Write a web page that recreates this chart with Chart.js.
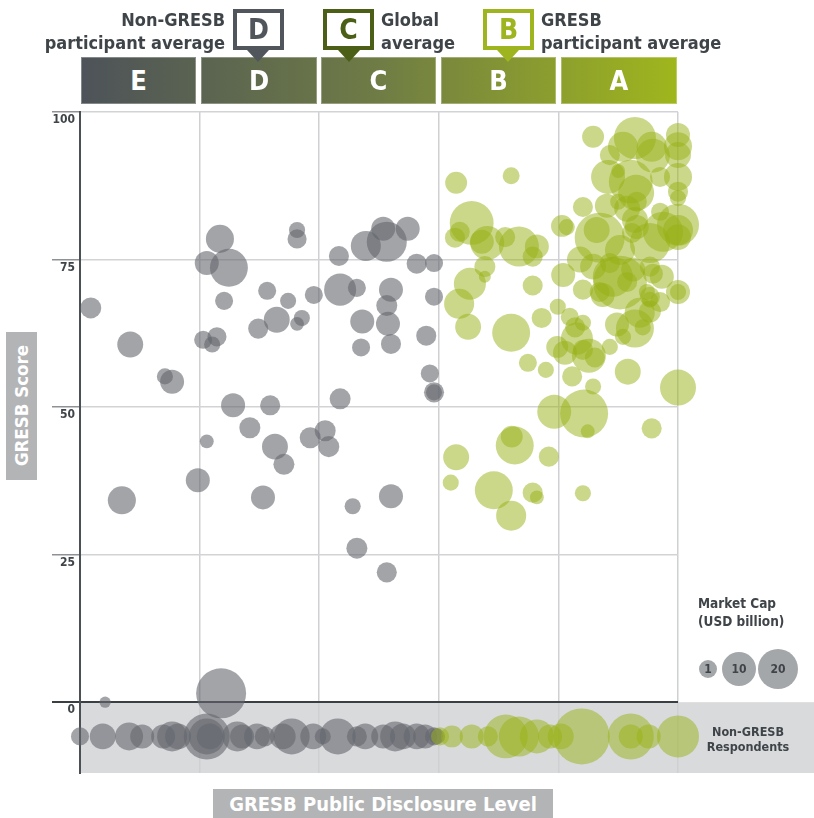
<!DOCTYPE html>
<html>
<head>
<meta charset="utf-8">
<script src="https://cdn.jsdelivr.net/npm/chart.js@4.4.1/dist/chart.umd.min.js"></script>
<style>
  html, body { margin: 0; padding: 0; background: #fff; }
  #wrap {
    position: relative; width: 814px; height: 818px; overflow: hidden;
    font-family: "DejaVu Sans Condensed", "DejaVu Sans", sans-serif;
    font-stretch: condensed; font-weight: bold; color: #3f4449;
  }
  #chart { position: absolute; left: 0; top: 0; }
  .abs { position: absolute; pointer-events: none; }
  .seg {
    position: absolute; top: 57px; height: 47px; color: #fff; font-size: 27px;
    line-height: 47px; text-align: center;
    background: linear-gradient(to right, #4d5359, #6f7c45 50%, #a0b61d);
    background-size: 596px 47px;
    box-shadow: inset 0 0 0 1px rgba(255,255,255,0.3);
  }
  .callout {
    position: absolute; top: 9px; width: 51px; height: 41px; box-sizing: border-box;
    border: 4px solid; background: #fff; font-size: 28px; line-height: 33px; text-align: center;
  }
  .tip {
    position: absolute; top: 50px; width: 0; height: 0;
    border-left: 11px solid transparent; border-right: 11px solid transparent; border-top: 12px solid;
  }
  .head { position: absolute; font-size: 18px; line-height: 22px; white-space: nowrap; }
  .bubble { position: absolute; border-radius: 50%; background: #a4a7aa; font-size: 12px; text-align: center; }
</style>
</head>
<body>
<div id="wrap">
  <canvas id="chart" width="814" height="818"></canvas>

  <div class="seg" style="left:81px;width:115px;background-position:0 0;">E</div>
  <div class="seg" style="left:201px;width:116px;background-position:-120px 0;">D</div>
  <div class="seg" style="left:321px;width:115px;background-position:-240px 0;">C</div>
  <div class="seg" style="left:441px;width:115px;background-position:-360px 0;">B</div>
  <div class="seg" style="left:561px;width:116px;background-position:-480px 0;">A</div>

  <div class="head" style="right:589px;top:9px;text-align:right;">Non-GRESB</div>
  <div class="head" style="right:589px;top:32px;text-align:right;">participant average</div>
  <div class="callout" style="left:233px;border-color:#50565c;color:#50565c;">D</div>
  <div class="tip" style="left:247px;color:#50565c;"></div>

  <div class="callout" style="left:323px;border-color:#4b5f16;color:#4b5f16;">C</div>
  <div class="tip" style="left:338px;color:#4b5f16;"></div>
  <div class="head" style="left:381px;top:9px;">Global</div>
  <div class="head" style="left:381px;top:32px;">average</div>

  <div class="callout" style="left:483px;border-color:#9fb520;color:#9fb520;">B</div>
  <div class="tip" style="left:497px;color:#9fb520;"></div>
  <div class="head" style="left:541px;top:9px;">GRESB</div>
  <div class="head" style="left:541px;top:32px;">participant average</div>

  <div class="abs" style="left:6px;top:332px;width:31px;height:148px;background:#b3b4b5;color:#fff;font-size:18.5px;display:flex;align-items:center;justify-content:center;">
    <span style="writing-mode:vertical-rl;transform:rotate(180deg);">GRESB Score</span>
  </div>
  <div class="abs" style="left:213px;top:789px;width:340px;height:29px;background:#b3b4b5;color:#fff;font-size:20px;line-height:30px;text-align:center;">GRESB Public Disclosure Level</div>

  <div class="abs" style="left:698px;top:594px;font-size:13.5px;line-height:18px;">Market Cap<br>(USD billion)</div>
  <div class="bubble" style="left:699px;top:660px;width:18px;height:18px;line-height:18px;">1</div>
  <div class="bubble" style="left:722px;top:652px;width:34px;height:34px;line-height:34px;">10</div>
  <div class="bubble" style="left:758px;top:649px;width:40px;height:40px;line-height:40px;">20</div>

  <div class="abs" style="left:698px;top:724px;width:100px;font-size:12.5px;line-height:15px;text-align:center;">Non-GRESB<br>Respondents</div>
</div>

<script>
// y = GRESB score, x = public disclosure score, cap = market cap (USD billion)
const yTicks = [0, 25, 50, 75, 100];
const respondentRowY = -5.8;

// non-GRESB participants (grey)
const nonGresbX = [1.8, 8.4, 23.4, 21.2, 24.9, 24.1, 31.3, 32.9, 29.8, 20.6,
  22.9, 22.1, 14.2, 15.4, 25.6, 31.8, 36.3, 36.3, 34.8, 37.1,
  36.3, 39.1, 43.3, 43.5, 46.3, 47.8, 50.7, 51.3, 54.8, 56.3,
  59.2, 59.2, 52.0, 51.3, 47.2, 51.5, 47.0, 52.0, 57.9, 58.5,
  59.2, 59.2, 43.5, 28.4, 21.2, 32.6, 34.1, 38.5, 41.0, 41.6,
  19.7, 7.0, 30.6, 45.6, 52.0, 46.3, 51.3, 23.6, 4.2];
const nonGresbY = [66.8, 60.6, 78.5, 74.4, 73.6, 68.0, 69.7, 64.8, 63.3, 61.4,
  61.9, 60.6, 55.2, 54.3, 50.3, 50.3, 80.0, 78.5, 68.0, 65.1,
  64.1, 69.0, 75.6, 69.9, 70.2, 77.3, 80.2, 78.0, 80.2, 74.3,
  74.4, 68.7, 69.9, 67.2, 64.5, 64.1, 60.1, 60.7, 62.1, 55.7,
  52.5, 52.5, 51.4, 46.5, 44.2, 43.3, 40.3, 44.8, 46.0, 43.3,
  37.6, 34.2, 34.7, 33.2, 34.9, 26.1, 22.0, 1.5, 0.0];
const nonGresbCap = [4.6, 7.0, 8.2, 6.0, 15, 3.4, 3.4, 7.0, 4.2, 3.4,
  3.8, 2.7, 2.7, 6.0, 6.0, 4.2, 2.7, 3.8, 2.7, 2.7,
  2.0, 3.4, 4.2, 10.7, 3.4, 9.4, 6.0, 16.7, 6.0, 4.2,
  3.4, 3.4, 6.0, 4.6, 6.0, 6.0, 3.4, 4.2, 4.2, 3.4,
  4.2, 2.7, 4.6, 4.6, 2.0, 7.0, 4.6, 4.6, 4.6, 4.6,
  6.0, 8.2, 6.0, 2.7, 6.0, 4.6, 4.2, 26, 1.3];

// GRESB participants (green)
const gresbX = [62.9, 72.1, 65.5, 63.5, 62.7, 67.2, 68.1, 71.1, 73.4, 76.4,
  75.7, 67.7, 67.7, 65.2, 63.4, 64.9, 75.7, 72.1, 77.2, 74.9,
  77.9, 79.3, 72.2, 72.7, 78.4, 62.9, 62.0, 69.2, 72.1, 75.7,
  76.4, 79.8, 81.1,
  85.8, 92.8, 90.8, 88.6, 95.6, 95.8, 100, 100, 100, 88.3,
  90.0, 92.1, 93.0, 97.0, 100, 100, 100, 84.1, 88.1, 90.0,
  91.5, 93.1, 97.0, 100, 100, 100, 97.5, 80.6, 81.4, 86.9,
  86.4, 92.8, 93.1, 92.3, 95.3, 90.3, 83.6, 85.8, 88.6, 89.1,
  91.5, 92.5, 95.3, 95.8, 97.3, 80.8, 84.1, 86.9, 94.8, 100,
  100, 79.9, 95.3, 90.3, 87.4, 95.3, 97.0, 93.6, 95.3, 89.8,
  92.8, 90.8, 94.1, 81.9, 82.8, 84.1, 83.1, 84.1, 85.1, 86.1,
  88.6, 82.3, 85.8, 91.6, 100, 84.3, 84.9, 95.6, 84.1];
const gresbY = [88.0, 89.2, 81.2, 79.7, 78.7, 78.0, 77.8, 78.8, 77.2, 77.2,
  75.5, 73.8, 72.1, 70.9, 67.5, 63.6, 70.6, 62.6, 65.1, 57.5,
  56.3, 49.2, 45.0, 43.5, 41.6, 41.5, 37.2, 35.9, 31.6, 35.5,
  34.7, 60.2, 59.2,
  95.8, 95.6, 94.1, 92.7, 94.1, 92.6, 96.1, 94.2, 92.7, 89.0,
  90.0, 88.2, 86.3, 89.0, 89.0, 86.5, 85.4, 83.9, 84.1, 84.8,
  83.6, 84.8, 83.1, 80.9, 80.0, 78.8, 79.7, 80.7, 80.5, 78.7,
  80.0, 81.7, 80.5, 79.5, 77.8, 76.6, 75.0, 73.8, 74.4, 72.1,
  71.2, 73.3, 73.8, 72.6, 72.1, 72.4, 69.9, 69.5, 69.5, 69.5,
  69.5, 67.0, 68.2, 71.1, 69.0, 68.7, 67.8, 66.0, 66.2, 64.0,
  63.3, 61.9, 63.5, 65.3, 63.5, 64.3, 61.6, 59.7, 58.7, 58.4,
  60.2, 55.2, 53.5, 56.0, 53.3, 48.9, 45.9, 46.4, 35.4];
const gresbCap = [5.0, 3.0, 20, 4.2, 4.2, 6.0, 12, 4.2, 16.7, 6.0,
  4.2, 4.6, 1.5, 10.7, 9.4, 7.0, 4.2, 15, 4.2, 3.4,
  2.7, 12, 5.0, 15, 4.2, 7.0, 2.7, 15, 9.4, 4.2,
  2.0, 5.0, 6.0,
  5.0, 18.4, 9.4, 4.2, 9.4, 12, 6.0, 8.2, 7.0, 12,
  2.0, 20, 13.5, 4.2, 8.2, 4.2, 2.7, 4.2, 6.0, 2.7,
  7.0, 4.2, 3.4, 18.4, 9.4, 7.0, 16.7, 5.0, 2.7, 26,
  7.0, 7.0, 6.0, 4.2, 16.7, 9.4, 7.0, 7.0, 4.2, 16.7,
  4.2, 6.0, 4.2, 4.2, 6.0, 6.0, 4.2, 4.2, 2.7, 6.0,
  2.7, 2.7, 2.7, 30, 6.0, 4.2, 4.2, 9.4, 5.0, 6.0,
  15, 2.7, 2.7, 3.4, 4.2, 2.7, 10.7, 4.2, 12, 4.2,
  2.7, 4.2, 2.7, 7.0, 13.5, 24, 2.0, 4.2, 2.7];

// respondents without a GRESB score, shown in the bottom row
const nonGresbRowX = [0, 3.8, 8.2, 10.4, 13.9, 15.4, 16.4, 21.2, 21.2, 21.7,
  26.3, 27.1, 29.6, 30.9, 33.9, 35.4, 39.0, 40.6, 43.1, 46.3,
  47.7, 50.7, 52.7, 54.0, 56.3, 57.7, 59.2, 59.7];
const nonGresbRowCap = [3.4, 7, 8.2, 6, 6, 9.4, 7, 22, 13.5, 7,
  9.4, 6, 7, 4.2, 7, 13.5, 7, 2.7, 13.5, 4.2,
  7, 6, 9.4, 7, 7, 6, 3.4, 2.7];
const gresbRowX = [60.2, 62.2, 65.5, 68.2, 71.2, 73.4, 76.4, 78.6, 80.4, 83.9, 92.1, 92.1, 95.1, 100];
const gresbRowCap = [3.4, 5, 6, 4.2, 20, 16.7, 12, 6, 7, 32.7, 22, 6, 6, 18.4];

const radius = cap => 4.9 * Math.sqrt(cap);
function points(xs, ys, caps) {
  return xs.map((x, i) => ({ x: x, y: ys[i], r: radius(caps[i]) }));
}
function rowPoints(xs, caps) {
  return points(xs, xs.map(() => respondentRowY), caps);
}

const FONT = '"DejaVu Sans Condensed", "DejaVu Sans", sans-serif';
Chart.defaults.font.family = FONT;

// grey strip for the non-GRESB respondents row
const respondentBand = {
  id: 'respondentBand',
  beforeDraw(chart) {
    const { ctx, chartArea, scales } = chart;
    const top = scales.y.getPixelForValue(0);
    ctx.save();
    ctx.fillStyle = '#d9dadc';
    ctx.fillRect(chartArea.left, top, chart.width - chartArea.left, chartArea.bottom - top);
    ctx.restore();
  }
};

const green = 'rgba(152, 178, 22, 0.5)';
const grey = 'rgba(100, 104, 110, 0.6)';

new Chart(document.getElementById('chart').getContext('2d'), {
  type: 'bubble',
  data: {
    datasets: [
      { label: 'GRESB participants', data: points(gresbX, gresbY, gresbCap).concat(rowPoints(gresbRowX, gresbRowCap)),
        backgroundColor: green, borderWidth: 0, clip: false },
      { label: 'Non-GRESB participants', data: points(nonGresbX, nonGresbY, nonGresbCap).concat(rowPoints(nonGresbRowX, nonGresbRowCap)),
        backgroundColor: grey, borderWidth: 0, clip: false }
    ]
  },
  options: {
    responsive: false,
    animation: false,
    layout: { padding: { left: 0, right: 136, top: 112, bottom: 45 } },
    plugins: { legend: { display: false }, tooltip: { enabled: false } },
    elements: { point: { hoverRadius: 0 } },
    scales: {
      x: {
        type: 'linear', min: 0, max: 100,
        ticks: { display: false, stepSize: 20 },
        border: { display: false },
        grid: { color: c => c.tick && c.tick.value === 0 ? 'rgba(0,0,0,0)' : '#cfd0d2', lineWidth: 1.5, drawTicks: false },
        afterFit(s) { s.height = 0; }
      },
      y: {
        min: -12, max: 100,
        afterBuildTicks(s) { s.ticks = yTicks.map(v => ({ value: v })); },
        afterFit(s) { s.width = 80; },
        border: { color: '#4b5055', width: 2 },
        grid: {
          color: c => c.tick && c.tick.value === 0 ? '#3a3f44' : '#d2d3d5',
          lineWidth: c => c.tick && c.tick.value === 0 ? 2 : 1.5,
          tickLength: 28,
          tickColor: c => c.tick && c.tick.value === 0 ? '#3a3f44' : '#8e9195'
        },
        ticks: { padding: -23, labelOffset: 8, color: '#3f4449', font: { size: 12, weight: 'bold' } }
      }
    }
  },
  plugins: [respondentBand]
});
</script>
</body>
</html>
